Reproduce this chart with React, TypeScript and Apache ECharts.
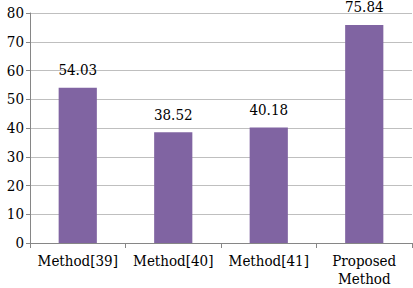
import React, { useEffect, useRef } from "react";
import * as echarts from "echarts";

const categories = ["Method[39]", "Method[40]", "Method[41]", "Proposed\nMethod"];
const values = [54.03, 38.52, 40.18, 75.84];
const yTicks = { min: 0, max: 80, interval: 10 };

export default function App() {
  const ref = useRef<HTMLDivElement>(null);
  useEffect(() => {
    const chart = echarts.init(ref.current!, null, { renderer: "svg" });
    const font = "DejaVu Serif Condensed, DejaVu Serif";
    chart.setOption({
      animation: false,
      backgroundColor: "#ffffff",
      textStyle: { fontFamily: font },
      grid: { left: 30, right: 1, top: 13, bottom: 45 },
      xAxis: {
        type: "category",
        data: categories,
        axisLine: { show: true, lineStyle: { color: "#868686", width: 1 } },
        axisTick: { show: true, length: 5, lineStyle: { color: "#868686" } },
        axisLabel: { color: "#000", fontFamily: font, fontSize: 15, margin: 9, lineHeight: 18, interval: 0 },
      },
      yAxis: {
        type: "value",
        min: yTicks.min,
        max: yTicks.max,
        interval: yTicks.interval,
        axisLine: { show: true, lineStyle: { color: "#868686", width: 1 } },
        axisTick: { show: true, length: 4, lineStyle: { color: "#868686" } },
        splitLine: { show: true, lineStyle: { color: "#bfbfbf", width: 1 } },
        axisLabel: { color: "#000", fontFamily: font, fontSize: 15, margin: 6 },
      },
      series: [
        {
          type: "bar",
          data: values,
          barWidth: "40%",
          itemStyle: { color: "#8064a2" },
          label: {
            show: true,
            position: "top",
            distance: 10,
            color: "#000",
            fontFamily: font,
            fontSize: 15,
            formatter: (p: any) => p.value.toFixed(2),
          },
        },
      ],
    });
    return () => chart.dispose();
  }, []);
  return <div ref={ref} style={{ width: 413, height: 288, position: "absolute", left: 0, top: 0 }} />;
}
